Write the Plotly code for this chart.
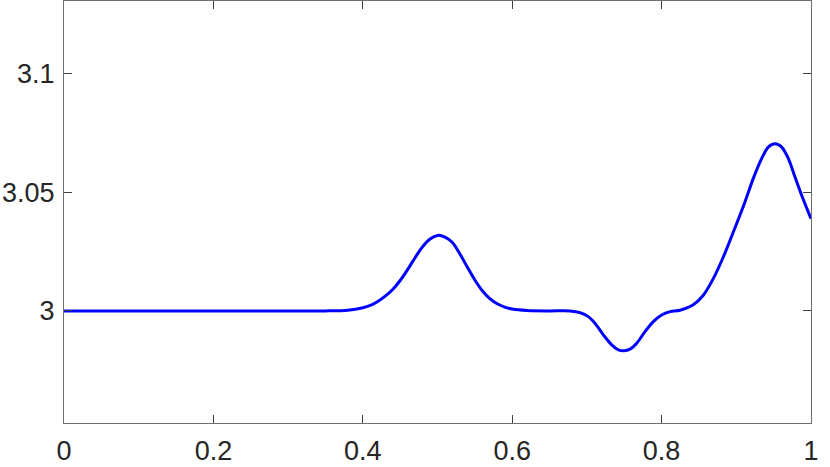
import plotly.graph_objects as go

x_vals = [0.0, 0.1, 0.2, 0.3, 0.35, 0.38, 0.40, 0.41, 0.42, 0.43, 0.44, 0.45, 0.46,
          0.47, 0.48, 0.49, 0.50, 0.51, 0.52, 0.53, 0.54, 0.55, 0.56, 0.57, 0.58,
          0.59, 0.60, 0.62, 0.65, 0.6774, 0.6908, 0.7019, 0.7108, 0.7220, 0.7332,
          0.7421, 0.7497, 0.7577, 0.7667, 0.7778, 0.7889, 0.8001, 0.8112, 0.8246,
          0.8424, 0.8558, 0.8692, 0.8826, 0.896, 0.9116, 0.9228, 0.9340, 0.9428,
          0.9518, 0.9608, 0.9696, 0.9786, 0.9875, 1.0]
y_vals = [3.0, 3.0, 3.0, 3.0, 3.0, 3.0003, 3.0013, 3.0023, 3.0040, 3.0062, 3.0090,
          3.0128, 3.0174, 3.0224, 3.0270, 3.0303, 3.0318, 3.0311, 3.0288, 3.0240,
          3.0184, 3.0130, 3.0085, 3.0052, 3.0030, 3.0016, 3.0008, 3.0002, 3.0,
          3.0, 2.9993, 2.9976, 2.9948, 2.9899, 2.9857,
          2.9836, 2.9832, 2.9839, 2.9864, 2.9913, 2.9955, 2.9983, 2.9997, 3.0003,
          3.0026, 3.0066, 3.0136, 3.0227, 3.0332, 3.0459, 3.0558, 3.0642, 3.0690,
          3.0704, 3.0690, 3.0642, 3.0564, 3.0487, 3.0388]

x_ticks = [0, 0.2, 0.4, 0.6, 0.8, 1]
x_tick_labels = ["0", "0.2", "0.4", "0.6", "0.8", "1"]
y_ticks = [3.0, 3.05, 3.1]
y_tick_labels = ["3", "3.05", "3.1"]

fig = go.Figure()
fig.add_trace(go.Scatter(x=x_vals, y=y_vals, mode="lines",
                         line=dict(color="#0000ff", width=3, shape="spline", smoothing=0.85),
                         hoverinfo="skip"))

axis_common = dict(showgrid=False, zeroline=False, showline=True, linecolor="#6e6e6e",
                   linewidth=1, mirror="allticks", ticks="inside", ticklen=8,
                   tickwidth=1, tickcolor="#404040",
                   tickfont=dict(family="Liberation Sans", size=27, color="#262626"))

fig.update_xaxes(range=[0, 1], tickvals=x_ticks, ticktext=x_tick_labels,
                 ticklabelstandoff=4, **axis_common)
fig.update_yaxes(range=[2.9528, 3.1305], tickvals=y_ticks, ticktext=y_tick_labels,
                 ticklabelstandoff=3, **axis_common)

fig.update_layout(width=830, height=467, margin=dict(l=64, r=19, t=1, b=44, autoexpand=False),
                  plot_bgcolor="white", paper_bgcolor="white", showlegend=False)

fig.write_html("out.html", config={"displayModeBar": False},
               post_script="document.body.style.margin='0';document.body.style.padding='0';")
